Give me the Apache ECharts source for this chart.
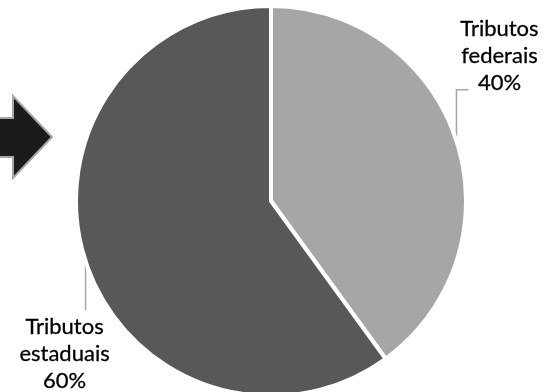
<!DOCTYPE html>
<html lang="pt">
<head>
	<meta charset="UTF-8">
	<title>Tributos</title>
	<script src="https://cdn.jsdelivr.net/npm/echarts@6/dist/echarts.min.js"></script>
	<style>
		html,body{margin:0;padding:0;background:#fff;}
		#main{width:544px;height:392px;}
	</style>
</head>
<body>
	<div id="main"></div>
	<script>
		var categories = ['Tributos\nfederais', 'Tributos\nestaduais'];
		var values = [40, 60];
		var colors = ['#a6a6a6', '#585858'];

		var myChart = echarts.init(document.getElementById('main'));
		var data = [];
		for(var i=0;i<categories.length;i++){
			data.push({name: categories[i], value: values[i], itemStyle: {color: colors[i]}});
		}
		var option = {
			animation: false,
			graphic: [{
				// seta decorativa à esquerda
				type: 'polygon',
				shape: {points: [[-6,118],[13,118],[13,96],[52,137],[13,178],[13,157],[-6,157]]},
				style: {fill: '#1b1b1b', stroke: '#a6a6a6', lineWidth: 2}
			}],
			series: [{
				type: 'pie',
				center: [271, 201],
				radius: [0, 195],
				startAngle: 90,
				clockwise: true,
				avoidLabelOverlap: false,
				itemStyle: {borderColor: '#fff', borderWidth: 4},
				label: {
					show: true,
					position: 'outside',
					formatter: function(p){
						return p.name + '\n' + Math.round(p.percent) + '%';
					},
					fontFamily: 'Lato',
					fontSize: 22,
					lineHeight: 27,
					color: '#000',
					textBorderColor: '#000',
					textBorderWidth: 0.3
				},
				labelLine: {
					show: true,
					length: 10,
					length2: 10,
					lineStyle: {color: '#a6a6a6', width: 1.5}
				},
				labelLayout: function(params){
					var p = params.labelLinePoints[0];
					if(params.dataIndex == 0){
						return {
							x: p[0] + 43, y: p[1] - 44,
							align: 'center', verticalAlign: 'bottom',
							labelLinePoints: [p, [p[0], p[1] - 51], [p[0] + 12, p[1] - 51]]
						};
					}
					return {
						x: p[0] - 21, y: p[1] + 52,
						align: 'center', verticalAlign: 'top',
						labelLinePoints: [p, [p[0], p[1] + 49], [p[0], p[1] + 49]]
					};
				},
				data: data
			}]
		};
		myChart.setOption(option);
	</script>
</body>
</html>
